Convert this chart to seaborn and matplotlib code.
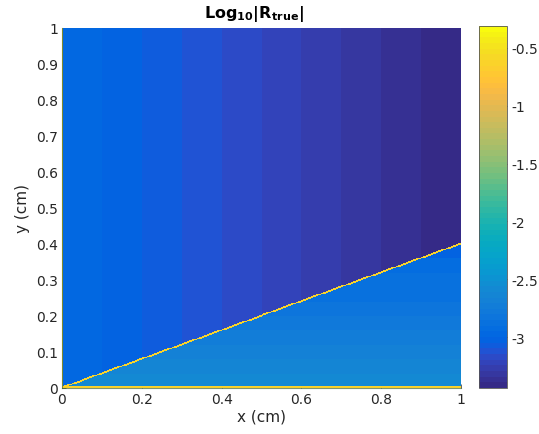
import numpy as np
import pandas as pd
import matplotlib
matplotlib.use("Agg")
import matplotlib.pyplot as plt
from matplotlib.colors import ListedColormap
import seaborn as sns

# ---- data ----
# upper region (y > 0.4 x): value per x-band of width 0.1
upper_col_values = [-2.976, -3.024, -3.073, -3.122, -3.171, -3.220, -3.269, -3.318, -3.367, -3.416]
# lower region (y < 0.4 x): value per y-band of width 0.04 (from y=0 upward)
lower_row_values = [-2.56, -2.61, -2.66, -2.71, -2.76, -2.81, -2.86, -2.90, -2.95, -3.00]
interface_slope = 0.4
interface_value = -0.65     # yellow line along y = 0.4 x
edge_value = -0.65          # bottom row (y=0) and left column (x=0)
vmin, vmax = -3.44, -0.31

x_ticks = [0, 0.2, 0.4, 0.6, 0.8, 1]
x_tick_labels = ["0", "0.2", "0.4", "0.6", "0.8", "1"]
y_ticks = [0, 0.1, 0.2, 0.3, 0.4, 0.5, 0.6, 0.7, 0.8, 0.9, 1]
y_tick_labels = ["0", "0.1", "0.2", "0.3", "0.4", "0.5", "0.6", "0.7", "0.8", "0.9", "1"]
cbar_ticks = [-3, -2.5, -2, -1.5, -1, -0.5]
cbar_tick_labels = ["-3", "-2.5", "-2", "-1.5", "-1", "-0.5"]

# ---- parula colormap (64 levels) ----
parula = [[0.2081, 0.1663, 0.5292], [0.2116, 0.1898, 0.5777], [0.2123, 0.2138, 0.6270], [0.2081, 0.2386, 0.6771],
          [0.1959, 0.2645, 0.7279], [0.1707, 0.2919, 0.7792], [0.1253, 0.3242, 0.8303], [0.0591, 0.3598, 0.8683],
          [0.0117, 0.3875, 0.8820], [0.0060, 0.4086, 0.8828], [0.0165, 0.4266, 0.8786], [0.0329, 0.4430, 0.8720],
          [0.0498, 0.4586, 0.8641], [0.0629, 0.4737, 0.8554], [0.0723, 0.4887, 0.8467], [0.0779, 0.5040, 0.8384],
          [0.0793, 0.5200, 0.8312], [0.0749, 0.5375, 0.8263], [0.0641, 0.5570, 0.8240], [0.0488, 0.5772, 0.8228],
          [0.0343, 0.5966, 0.8199], [0.0265, 0.6137, 0.8135], [0.0239, 0.6287, 0.8038], [0.0231, 0.6418, 0.7913],
          [0.0228, 0.6535, 0.7768], [0.0267, 0.6642, 0.7607], [0.0384, 0.6743, 0.7436], [0.0590, 0.6838, 0.7254],
          [0.0843, 0.6928, 0.7062], [0.1133, 0.7015, 0.6859], [0.1453, 0.7098, 0.6646], [0.1801, 0.7177, 0.6424],
          [0.2178, 0.7250, 0.6193], [0.2586, 0.7317, 0.5954], [0.3022, 0.7376, 0.5712], [0.3482, 0.7424, 0.5473],
          [0.3953, 0.7459, 0.5244], [0.4420, 0.7481, 0.5033], [0.4871, 0.7491, 0.4840], [0.5300, 0.7491, 0.4661],
          [0.5709, 0.7485, 0.4494], [0.6099, 0.7473, 0.4337], [0.6473, 0.7456, 0.4188], [0.6834, 0.7435, 0.4044],
          [0.7184, 0.7411, 0.3905], [0.7525, 0.7384, 0.3768], [0.7858, 0.7356, 0.3633], [0.8185, 0.7327, 0.3498],
          [0.8507, 0.7299, 0.3360], [0.8824, 0.7274, 0.3217], [0.9139, 0.7258, 0.3063], [0.9450, 0.7261, 0.2886],
          [0.9739, 0.7314, 0.2666], [0.9938, 0.7455, 0.2403], [0.9990, 0.7653, 0.2164], [0.9955, 0.7861, 0.1967],
          [0.9880, 0.8066, 0.1794], [0.9789, 0.8271, 0.1633], [0.9697, 0.8481, 0.1475], [0.9626, 0.8705, 0.1309],
          [0.9589, 0.8949, 0.1132], [0.9598, 0.9218, 0.0948], [0.9661, 0.9514, 0.0755], [0.9763, 0.9831, 0.0538]]
cmap = ListedColormap(parula, name="parula")

# ---- build the field on a grid from the arrays above ----
N = 400
xc = (np.arange(N) + 0.5) / N
yc = (np.arange(N) + 0.5) / N
XX, YY = np.meshgrid(xc, yc)
col_idx = np.minimum((XX * len(upper_col_values)).astype(int), len(upper_col_values) - 1)
row_idx = np.minimum((YY / (interface_slope / len(lower_row_values))).astype(int), len(lower_row_values) - 1)
Z = np.where(YY > interface_slope * XX,
             np.asarray(upper_col_values)[col_idx],
             np.asarray(lower_row_values)[row_idx])
line_rows = np.minimum((interface_slope * xc * N).astype(int), N - 1)
Z[line_rows, np.arange(N)] = interface_value
Z[np.minimum(line_rows + 1, N - 1), np.arange(N)] = interface_value
Z[0:2, :] = edge_value
Z[:, 0] = edge_value

df = pd.DataFrame(Z[::-1, :])  # heatmap draws row 0 on top

# ---- figure ----
sns.set_style("white")
plt.rcParams["font.family"] = ["DejaVu Sans"]
fig = plt.figure(figsize=(5.39, 4.35), dpi=100)
ax = fig.add_axes([62 / 539, 46 / 435, 399 / 539, 360 / 435])
cax = fig.add_axes([479 / 539, 46 / 435, 28 / 539, 362 / 435])

sns.heatmap(df, ax=ax, cmap=cmap, vmin=vmin, vmax=vmax, cbar_ax=cax,
            xticklabels=False, yticklabels=False, rasterized=True)

txt = "#262626"
ax.set_xticks([t * N for t in x_ticks])
ax.set_xticklabels(x_tick_labels, rotation=0, fontsize=10, color=txt)
ax.set_yticks([(1 - t) * N for t in y_ticks])
ax.set_yticklabels(y_tick_labels, rotation=0, fontsize=10, color=txt)
ax.tick_params(axis="both", direction="in", length=3, width=0.5, color=txt, pad=3,
               bottom=True, left=True)
ax.set_xlabel("x (cm)", fontsize=11, color=txt, labelpad=2)
ax.set_ylabel("y (cm)", fontsize=11, color=txt, labelpad=4)
fig.text(254 / 539, 1 - 14 / 435, r"$\mathbf{Log_{10}|R_{true}|}$", fontsize=11.5,
         color="black", ha="center", va="center")
for side in ["left", "bottom"]:
    ax.spines[side].set_visible(True)
    ax.spines[side].set_color("#4a6a30")
    ax.spines[side].set_linewidth(0.8)
    ax.spines[side].set_alpha(0.7)

cb = ax.collections[0].colorbar
cb.set_ticks(cbar_ticks)
cb.set_ticklabels(cbar_tick_labels)
cb.ax.tick_params(labelsize=10, labelcolor=txt, direction="in", length=3, width=0.5, color=txt)
cb.outline.set_visible(True)
cb.outline.set_edgecolor("#555555")
cb.outline.set_linewidth(0.6)

fig.savefig("out.png", dpi=100)
